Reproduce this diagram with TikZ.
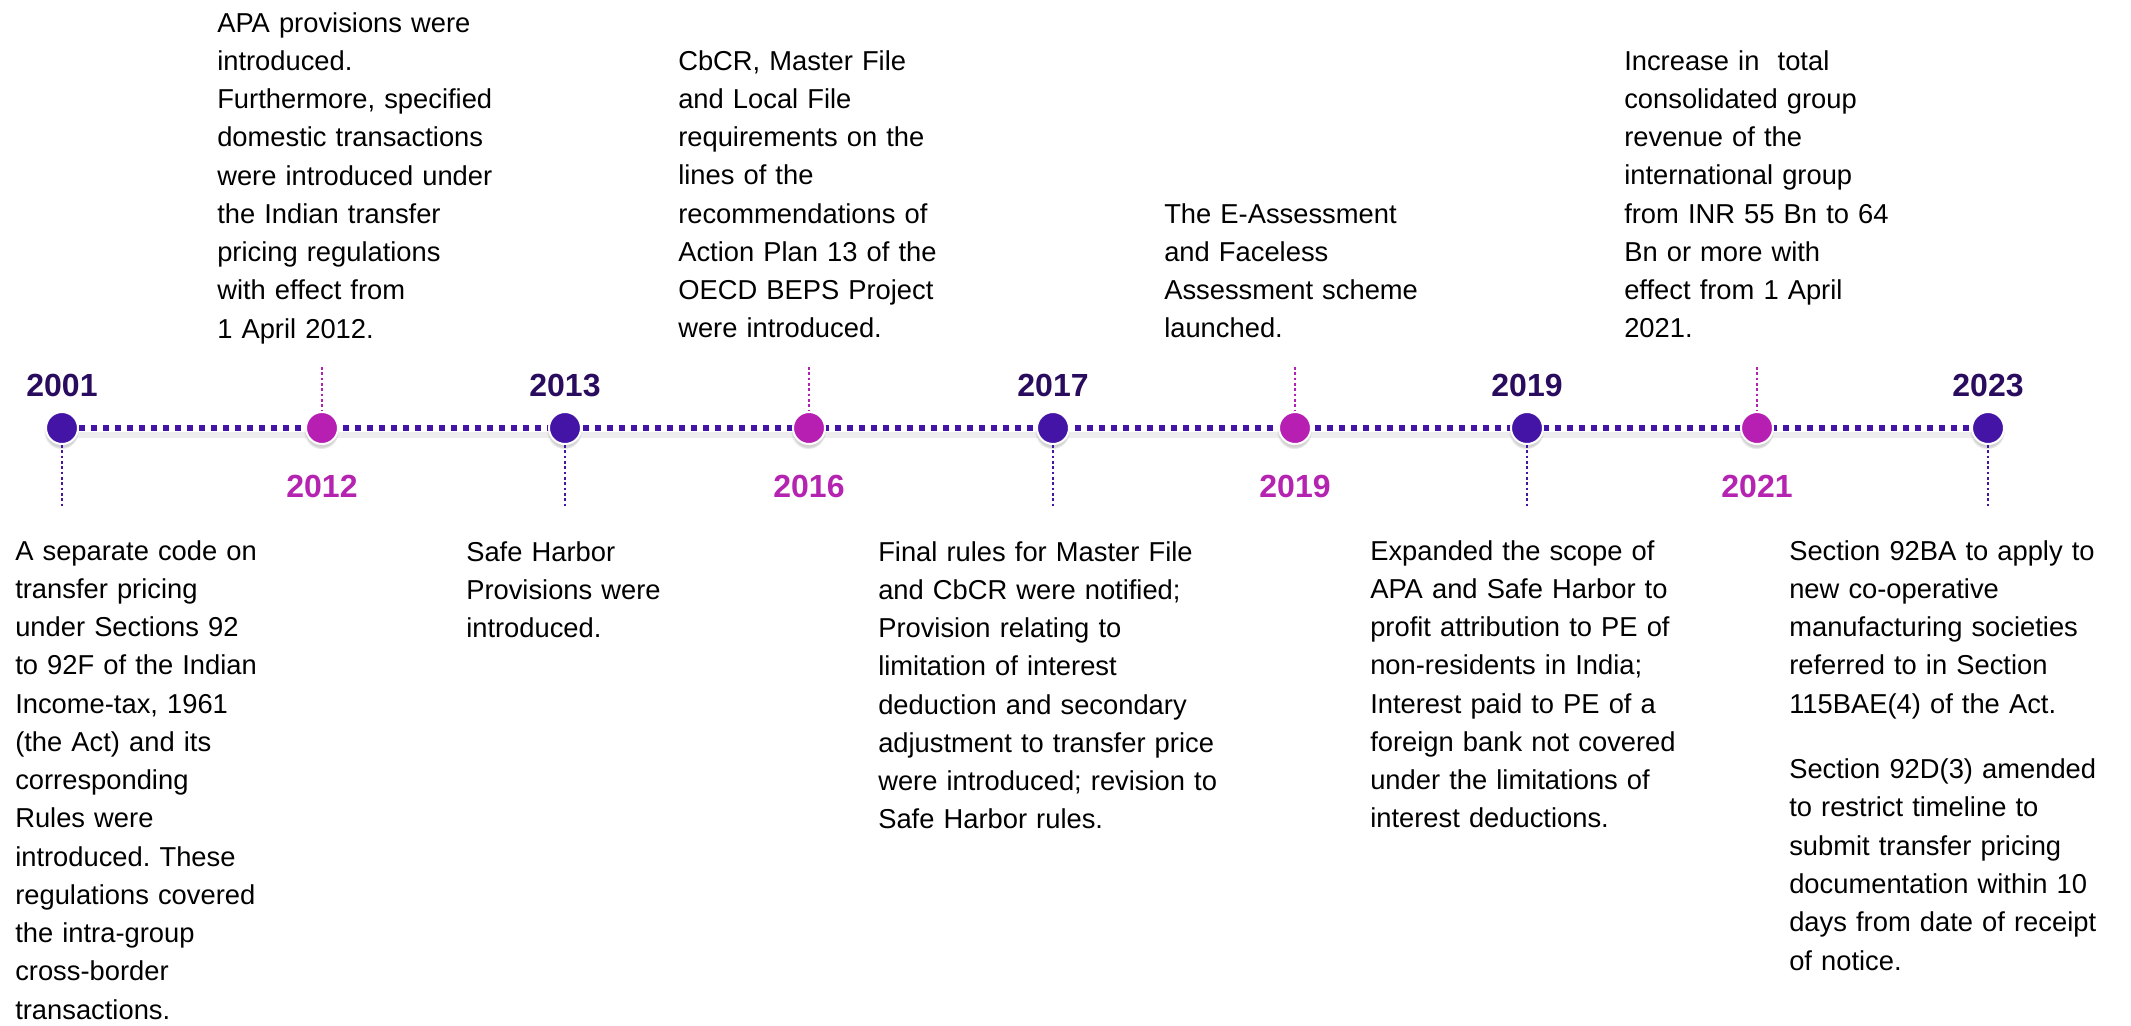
\documentclass[tikz,border=0pt]{standalone}
\usepackage{fontspec}
\setmainfont{Liberation Sans}
\usetikzlibrary{calc,shadows,backgrounds}
\frenchspacing

\definecolor{dotblue}{RGB}{67,20,166}
\definecolor{dotpink}{RGB}{183,31,179}
\definecolor{yearblue}{RGB}{42,12,95}
\definecolor{yearpink}{RGB}{181,36,177}

\begin{document}
\begin{tikzpicture}[x=0.75pt,y=0.75pt,yscale=-1,xscale=1,
  bluedot/.style={circle,minimum size=24pt,inner sep=0pt,fill=dotblue,draw=white,line width=1.5pt,
    circular drop shadow={shadow xshift=-0.5pt,shadow yshift=-2.5pt,opacity=0.35}},
  pinkdot/.style={bluedot,fill=dotpink},
  mainline/.style={line width=4.5pt,dotblue,dash pattern={on 4.5pt off 4.5pt}},
  lineshade/.style={line width=5pt,black,opacity=0.07},
  bluelink/.style={line width=2pt,dotblue,dash pattern={on 2pt off 2pt}},
  pinklink/.style={bluelink,dotpink},
  yeartop/.style={anchor=base,inner sep=0pt,text=yearblue,font=\fontsize{24}{28}\selectfont\bfseries},
  yearbottom/.style={yeartop,text=yearpink},
  note/.style={anchor=base west,align=left,text width=270pt,inner sep=0pt,font=\fontsize{20.5}{28.7}\selectfont}
]
\useasboundingbox (0,0) rectangle (2131,1025);

%Shape: Circle
\node [bluedot] (d2001) at (62,428) {};
\node [pinkdot] (d2012) at (322,428) {};
\node [bluedot] (d2013) at (565,428) {};
\node [pinkdot] (d2016) at (809,428) {};
\node [bluedot] (d2017) at (1053,428) {};
\node [pinkdot] (d2019a) at (1295,428) {};
\node [bluedot] (d2019b) at (1527,428) {};
\node [pinkdot] (d2021) at (1757,428) {};
\node [bluedot] (d2023) at (1988,428) {};

%Straight Lines
\begin{pgfonlayer}{background}
\draw [lineshade] ($(d2001)+(0,7)$) -- ($(d2023)+(0,7)$) ;
\draw [mainline] (d2001) -- (d2023) ;
\end{pgfonlayer}

%Straight Lines
\coordinate (e2001) at (62,506);
\coordinate (e2012) at (322,367);
\coordinate (e2013) at (565,508);
\coordinate (e2016) at (809,367);
\coordinate (e2017) at (1053,508);
\coordinate (e2019a) at (1295,367);
\coordinate (e2019b) at (1527,508);
\coordinate (e2021) at (1757,367);
\coordinate (e2023) at (1988,508);
\draw [bluelink] (d2001.south) -- (e2001) ;
\draw [pinklink] (e2012) -- (d2012.north) ;
\draw [bluelink] (d2013.south) -- (e2013) ;
\draw [pinklink] (e2016) -- (d2016.north) ;
\draw [bluelink] (d2017.south) -- (e2017) ;
\draw [pinklink] (e2019a) -- (d2019a.north) ;
\draw [bluelink] (d2019b.south) -- (e2019b) ;
\draw [pinklink] (e2021) -- (d2021.north) ;
\draw [bluelink] (d2023.south) -- (e2023) ;

% Text Node
\draw (62,396) node [yeartop] (y2001) {2001};
\draw (322,497) node [yearbottom] (y2012) {2012};
\draw (565,396) node [yeartop] (y2013) {2013};
\draw (809,497) node [yearbottom] (y2016) {2016};
\draw (1053,396) node [yeartop] (y2017) {2017};
\draw (1295,497) node [yearbottom] (y2019a) {2019};
\draw (1527,396) node [yeartop] (y2019b) {2019};
\draw (1757,497) node [yearbottom] (y2021) {2021};
\draw (1988,396) node [yeartop] (y2023) {2023};

% Text Node
\draw (15,560) node [note] (t2001) {A separate code on\\transfer pricing\\under Sections 92\\to 92F of the Indian\\Income-tax, 1961\\(the Act) and its\\corresponding\\Rules were\\introduced. These\\regulations covered\\the intra-group\\cross-border\\transactions.};
% Text Node
\draw (217,32) node [note] (t2012) {APA provisions were\\introduced.\\Furthermore, specified\\domestic transactions\\were introduced under\\the Indian transfer\\pricing regulations\\with effect from\\1 April 2012.};
% Text Node
\draw (466,561) node [note] (t2013) {Safe Harbor\\Provisions were\\introduced.};
% Text Node
\draw (678,70) node [note] (t2016) {CbCR, Master File\\and Local File\\requirements on the\\lines of the\\recommendations of\\Action Plan 13 of the\\OECD BEPS Project\\were introduced.};
% Text Node
\draw (878,561) node [note] (t2017) {Final rules for Master File\\and CbCR were notified;\\Provision relating to\\limitation of interest\\deduction and secondary\\adjustment to transfer price\\were introduced; revision to\\Safe Harbor rules.};
% Text Node
\draw (1164,223) node [note] (t2019a) {The E-Assessment\\and Faceless\\Assessment scheme\\launched.};
% Text Node
\draw (1370,560) node [note] (t2019b) {Expanded the scope of\\APA and Safe Harbor to\\profit attribution to PE of\\non-residents in India;\\Interest paid to PE of a\\foreign bank not covered\\under the limitations of\\interest deductions.};
% Text Node
\draw (1624,70) node [note] (t2021) {Increase in\ \ total\\consolidated group\\revenue of the\\international group\\from INR 55 Bn to 64\\Bn or more with\\effect from 1 April\\2021.};
% Text Node
\draw (1789,560) node [note] (t2023) {Section 92BA to apply to\\new co-operative\\manufacturing societies\\referred to in Section\\115BAE(4) of the Act.\\[20.5pt]Section 92D(3) amended\\to restrict timeline to\\submit transfer pricing\\documentation within 10\\days from date of receipt\\of notice.};

\end{tikzpicture}
\end{document}
